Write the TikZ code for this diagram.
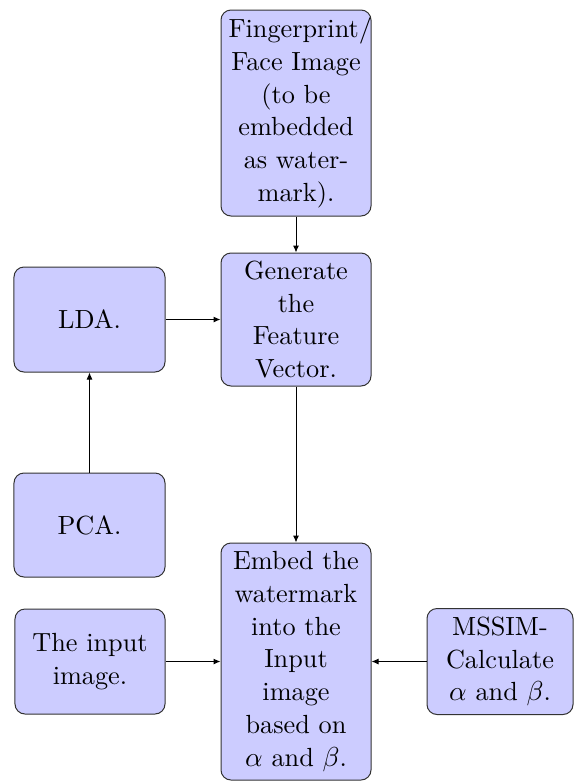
\documentclass[tikz,border=0pt]{standalone}
\usetikzlibrary{arrows.meta}
\begin{document}
\begin{tikzpicture}[x=0.4pt,y=-0.4pt,
  box/.style={draw=black!80, fill=blue!20, rounded corners=4pt, thin,
    align=center, inner xsep=3pt, inner ysep=2pt,
    font=\fontsize{10.5}{13.1}\selectfont},
  link/.style={draw=black, thin, -{Latex[length=2.8pt,width=2.4pt]}}]
  \useasboundingbox (0,0) rectangle (574,781);

  \node[box, text width=54pt, minimum height=82.4pt] (fp) at (296,113)
    {Fingerprint/\\Face Image\\(to be\\embedded\\as water-\\mark).};
  \node[box, text width=54pt, minimum height=53.2pt] (gen) at (296,319.5)
    {Generate\\the\\Feature\\Vector.};
  \node[box, text width=54.4pt, minimum height=42pt] (lda) at (89.5,319.5)
    {LDA.};
  \node[box, text width=54.4pt, minimum height=41.6pt] (pca) at (89.5,525)
    {PCA.};
  \node[box, text width=54pt, minimum height=94.8pt] (emb) at (296,661.5)
    {Embed the\\watermark\\into the\\Input\\image\\based on\\$\alpha$ and $\beta$.};
  \node[box, text width=54pt, minimum height=42pt] (inp) at (90,661.5)
    {The input\\image.};
  \node[box, text width=52.4pt, minimum height=42.4pt] (mss) at (500,661.5)
    {MSSIM-\\Calculate\\$\alpha$ and $\beta$.};

  \draw[link] (fp.south) -- (gen.north);
  \draw[link] (lda.east) -- (gen.west);
  \draw[link] (pca.north) -- (lda.south);
  \draw[link] (gen.south) -- (emb.north);
  \draw[link] (inp.east) -- (emb.west);
  \draw[link] (mss.west) -- (emb.east);
\end{tikzpicture}
\end{document}
